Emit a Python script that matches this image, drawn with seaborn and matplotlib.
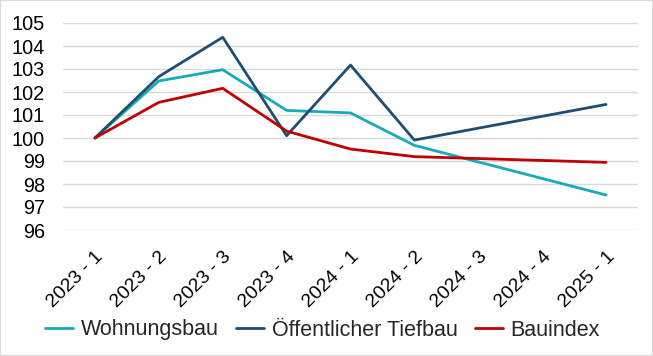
import numpy as np
import pandas as pd
import matplotlib
matplotlib.use("Agg")
import matplotlib.pyplot as plt
import seaborn as sns
from matplotlib.patches import Rectangle

categories = ["2023 - 1", "2023 - 2", "2023 - 3", "2023 - 4", "2024 - 1",
              "2024 - 2", "2024 - 3", "2024 - 4", "2025 - 1"]
wohnungsbau = [100.0, 102.48, 102.97, 101.2, 101.09, 99.68, np.nan, np.nan, 97.52]
tiefbau = [100.0, 102.67, 104.38, 100.1, 103.17, 99.91, np.nan, np.nan, 101.46]
bauindex = [100.0, 101.55, 102.16, 100.3, 99.52, 99.19, np.nan, np.nan, 98.94]
series_names = ["Wohnungsbau", "Öffentlicher Tiefbau", "Bauindex"]
yticks = [96, 97, 98, 99, 100, 101, 102, 103, 104, 105]

colors = ["#18AAB9", "#1F4E74", "#C00000"]

rows = []
for name, vals in zip(series_names, [wohnungsbau, tiefbau, bauindex]):
    for i, v in enumerate(vals):
        rows.append({"x": i, "value": v, "Serie": name})
df = pd.DataFrame(rows).dropna()

sns.set_theme(style="white")
plt.rcParams["font.family"] = ["Liberation Sans", "DejaVu Sans"]

fig = plt.figure(figsize=(6.53, 3.56), dpi=100)
ax = fig.add_axes([63 / 653, 1 - 230 / 356, (638 - 63) / 653, (230 - 23) / 356])

sns.lineplot(data=df, x="x", y="value", hue="Serie", hue_order=series_names,
             palette=colors, linewidth=2.0, ax=ax, legend=True, sort=True)

ax.set_xlim(-0.5, len(categories) - 0.5)
ax.set_ylim(96, 105)
ax.set_yticks(yticks)
ax.set_yticklabels([str(t) for t in yticks], fontsize=14.3, color="black")
ax.set_xticks(range(len(categories)))
ax.set_xticklabels(categories, fontsize=14, rotation=45, ha="right",
                   rotation_mode="anchor", color="black")
ax.tick_params(axis="y", length=0, pad=13)
ax.tick_params(axis="x", length=0, pad=13)
ax.grid(axis="y", color="#D9D9D9", linewidth=1.0)
ax.set_axisbelow(True)
for s in ax.spines.values():
    s.set_visible(False)
ax.set_xlabel("")
ax.set_ylabel("")

ax.get_legend().remove()
handles, labels = ax.get_legend_handles_labels()
fig.legend(handles, labels, loc="center left", bbox_to_anchor=(45 / 653, 1 - 330 / 356),
           ncol=3, frameon=False, fontsize=15.5, handlelength=1.3,
           handletextpad=0.37, columnspacing=0.79, borderaxespad=0, borderpad=0)

fig.patches.append(Rectangle((0, 0), 1, 1, transform=fig.transFigure, fill=False,
                             edgecolor="#D9D9D9", linewidth=1.5))

fig.savefig("out.png", dpi=100)
